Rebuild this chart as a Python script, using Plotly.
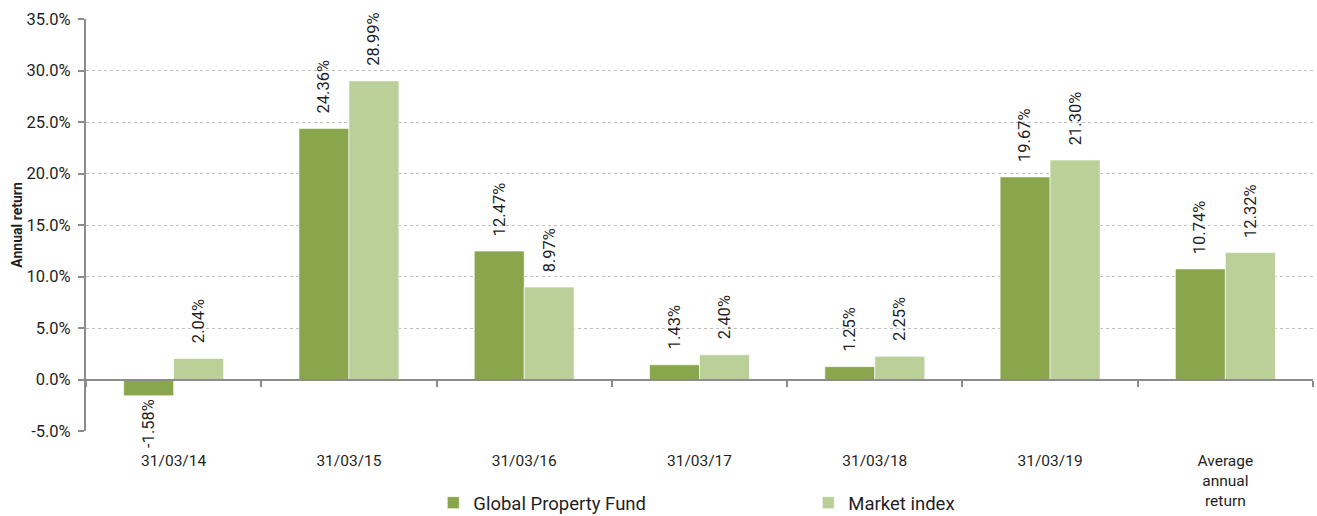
import plotly.graph_objects as go

categories = ["31/03/14", "31/03/15", "31/03/16", "31/03/17", "31/03/18", "31/03/19", "Average<br>annual<br>return"]
fund_values = [-1.58, 24.36, 12.47, 1.43, 1.25, 19.67, 10.74]
index_values = [2.04, 28.99, 8.97, 2.40, 2.25, 21.30, 12.32]
series_names = ["Global Property Fund", "Market index"]
y_ticks = [-5, 0, 5, 10, 15, 20, 25, 30, 35]

fund_color = "#8aa64c"
index_color = "#bbcf98"
axis_color = "#8c8c8c"
text_color = "#1f1f1f"
font_family = "Roboto, Arial, sans-serif"

fig = go.Figure()
fig.add_trace(go.Bar(x=categories, y=fund_values, name=series_names[0],
                     marker=dict(color=fund_color, line=dict(color="#ffffff", width=0.6)),
                     hoverinfo="skip"))
fig.add_trace(go.Bar(x=categories, y=index_values, name=series_names[1],
                     marker=dict(color=index_color, line=dict(color="#ffffff", width=0.6)),
                     hoverinfo="skip"))
# invisible trace to carry the zero-level axis with boundary ticks
fig.add_trace(go.Scatter(x=categories, y=[0] * len(categories), xaxis="x2", mode="markers",
                         marker=dict(opacity=0), showlegend=False, hoverinfo="skip"))

annotations = []
for vals, shift in ((fund_values, -25), (index_values, 25)):
    for c, v in zip(categories, vals):
        annotations.append(dict(
            x=c, y=v, xref="x", yref="y", text=f"{v:.2f}%", showarrow=False,
            textangle=-90, xshift=shift,
            yanchor="bottom" if v >= 0 else "top",
            yshift=13 if v >= 0 else -1,
            font=dict(size=16.5, color=text_color, family=font_family)))

ymin, ymax = -5, 35
fig.update_layout(
    width=1317, height=516,
    margin=dict(l=86, r=4, t=19, b=85, autoexpand=False),
    paper_bgcolor="white", plot_bgcolor="white",
    font=dict(family=font_family, color=text_color, size=16),
    barmode="group", bargap=0.43, bargroupgap=0,
    showlegend=True,
    legend=dict(orientation="h", xref="container", x=0.329, xanchor="left",
                yref="container", y=0.025, yanchor="middle",
                font=dict(size=18.5, family=font_family, color=text_color),
                entrywidth=330, entrywidthmode="pixels", itemwidth=30),
    xaxis=dict(type="category", categoryarray=categories, range=[-0.5, len(categories) - 0.5],
               showline=False, ticks="", showgrid=False, zeroline=False, automargin=False,
               tickfont=dict(size=15.5), ticklabelstandoff=18, fixedrange=True),
    xaxis2=dict(type="category", categoryarray=categories, range=[-0.5, len(categories) - 0.5],
                overlaying="x", anchor="free", position=(0 - ymin) / (ymax - ymin),
                showline=True, linecolor=axis_color, linewidth=2,
                ticks="outside", tickson="boundaries", ticklen=6, tickwidth=2, tickcolor=axis_color,
                showticklabels=False, showgrid=False, zeroline=False, fixedrange=True),
    yaxis=dict(range=[ymin, ymax], tickvals=y_ticks, ticktext=[f"{t:.1f}%" for t in y_ticks],
               showline=True, linecolor=axis_color, linewidth=2, automargin=False,
               ticks="outside", ticklen=6, tickwidth=2, tickcolor=axis_color,
               showgrid=True, gridcolor="#bfbfbf", gridwidth=1, griddash="dot",
               zeroline=False, tickfont=dict(size=16.5), ticklabelstandoff=4,
               title=dict(text="<b>Annual return</b>", font=dict(size=14), standoff=1),
               fixedrange=True),
    annotations=annotations,
)

fig.write_html("out.html", config={"displayModeBar": False},
               post_script="document.body.style.margin='0';")
